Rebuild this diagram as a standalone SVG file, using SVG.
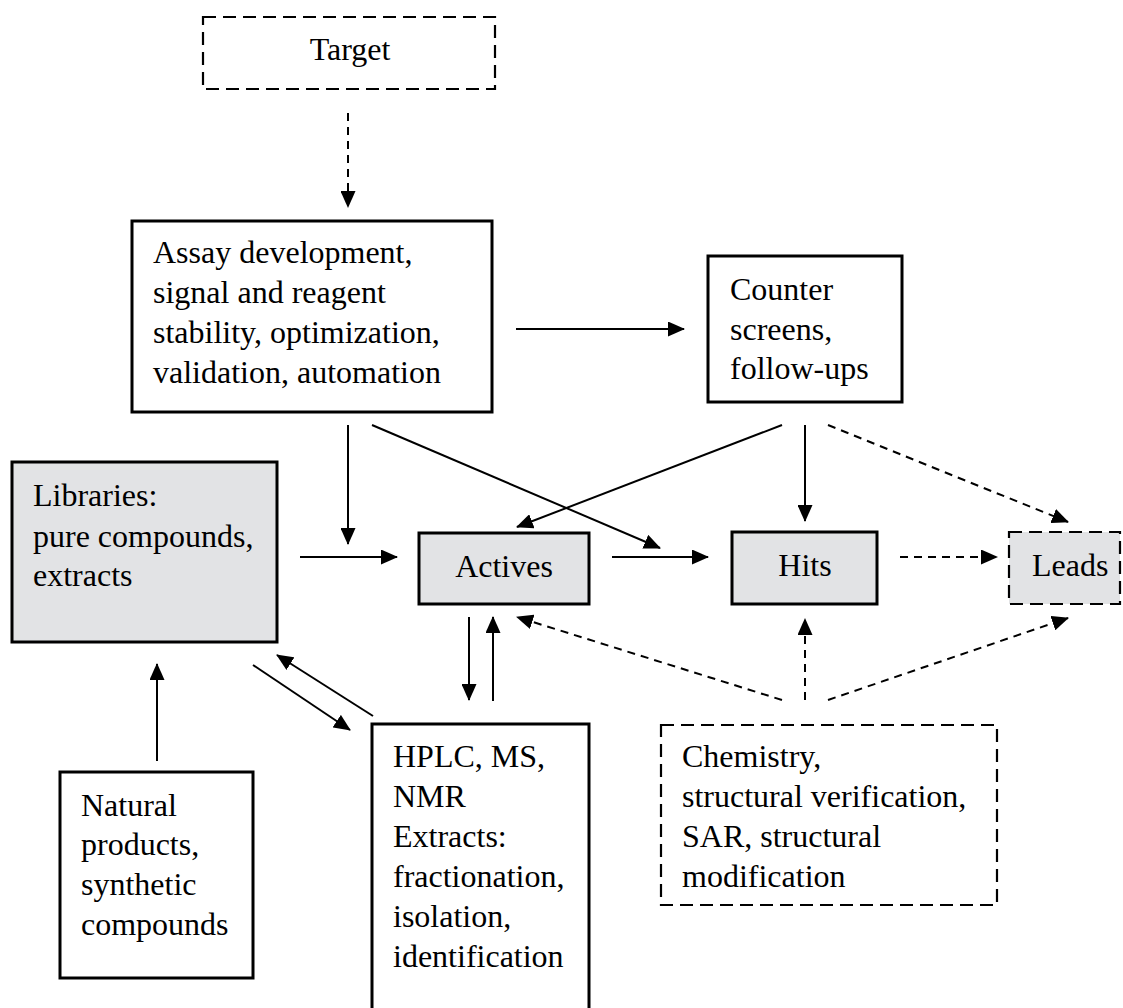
<svg xmlns="http://www.w3.org/2000/svg" width="1123" height="1008" viewBox="0 0 1123 1008">
<defs>
<marker id="ah" markerUnits="userSpaceOnUse" viewBox="0 0 17 15" markerWidth="17" markerHeight="15" refX="16" refY="7.5" orient="auto">
<path d="M0,0 L17,7.5 L0,15 Z" fill="#000"/>
</marker>
<style>
text{font-family:"Liberation Serif","Times New Roman",serif;font-size:32px;fill:#000}
.box{fill:#fff;stroke:#000;stroke-width:3}
.dbox{fill:#fff;stroke:#000;stroke-width:2.2;stroke-dasharray:13 7}
.grey{fill:#e2e3e5}
.c{text-anchor:middle}
.ln{stroke:#000;stroke-width:2;fill:none;marker-end:url(#ah)}
.dl{stroke:#000;stroke-width:2;fill:none;stroke-dasharray:8 6;marker-end:url(#ah)}
</style>
</defs>
<rect width="1123" height="1008" fill="#fff"/>
<g id="target">
<rect class="dbox" x="203" y="17" width="292" height="72"/>
<text class="c" x="350" y="60">Target</text>
</g>
<g id="assay">
<rect class="box" x="132" y="221" width="360" height="191"/>
<text x="153" y="263">Assay development,</text>
<text x="153" y="303">signal and reagent</text>
<text x="153" y="343">stability, optimization,</text>
<text x="153" y="383">validation, automation</text>
</g>
<g id="counter">
<rect class="box" x="708" y="256" width="194" height="146"/>
<text x="730" y="300">Counter</text>
<text x="730" y="340">screens,</text>
<text x="730" y="379">follow-ups</text>
</g>
<g id="libraries">
<rect class="box grey" x="12" y="462" width="265" height="180"/>
<text x="33" y="506">Libraries:</text>
<text x="33" y="547">pure compounds,</text>
<text x="33" y="586">extracts</text>
</g>
<g id="actives">
<rect class="box grey" x="419" y="533" width="170" height="71"/>
<text class="c" x="504" y="577">Actives</text>
</g>
<g id="hits">
<rect class="box grey" x="732" y="532" width="145" height="72"/>
<text class="c" x="805" y="576">Hits</text>
</g>
<g id="leads">
<rect class="dbox grey" x="1009" y="532" width="111" height="72"/>
<text x="1032" y="576">Leads</text>
</g>
<g id="natural">
<rect class="box" x="60" y="772" width="193" height="206"/>
<text x="81" y="816">Natural</text>
<text x="81" y="855">products,</text>
<text x="81" y="895">synthetic</text>
<text x="81" y="935">compounds</text>
</g>
<g id="hplc">
<rect class="box" x="372" y="724" width="217" height="300"/>
<text x="393" y="767">HPLC, MS,</text>
<text x="393" y="807">NMR</text>
<text x="393" y="847">Extracts:</text>
<text x="393" y="887">fractionation,</text>
<text x="393" y="927">isolation,</text>
<text x="393" y="967">identification</text>
</g>
<g id="chemistry">
<rect class="dbox" x="661" y="725" width="336" height="180"/>
<text x="682" y="767">Chemistry,</text>
<text x="682" y="807">structural verification,</text>
<text x="682" y="847">SAR, structural</text>
<text x="682" y="887">modification</text>
</g>
<g id="connectors">
<line class="dl" x1="348" y1="113" x2="348" y2="207"/>
<line class="ln" x1="516" y1="329" x2="684" y2="329"/>
<line class="ln" x1="348" y1="425" x2="348" y2="544"/>
<line class="ln" x1="372" y1="425" x2="660" y2="548"/>
<line class="ln" x1="782" y1="425" x2="517" y2="527"/>
<line class="ln" x1="805" y1="425" x2="805" y2="521"/>
<line class="dl" x1="828" y1="425" x2="1068" y2="522"/>
<line class="ln" x1="300" y1="557" x2="397" y2="557"/>
<line class="ln" x1="612" y1="557" x2="708" y2="557"/>
<line class="dl" x1="900" y1="557" x2="997" y2="557"/>
<line class="ln" x1="469" y1="617" x2="469" y2="700"/>
<line class="ln" x1="493" y1="701" x2="493" y2="617"/>
<line class="dl" x1="782" y1="700" x2="517" y2="617"/>
<line class="dl" x1="805" y1="700" x2="805" y2="619"/>
<line class="dl" x1="828" y1="700" x2="1068" y2="618"/>
<line class="ln" x1="253" y1="665" x2="350" y2="730"/>
<line class="ln" x1="373" y1="716" x2="277" y2="655"/>
<line class="ln" x1="157" y1="761" x2="157" y2="664"/>
</g>
</svg>
